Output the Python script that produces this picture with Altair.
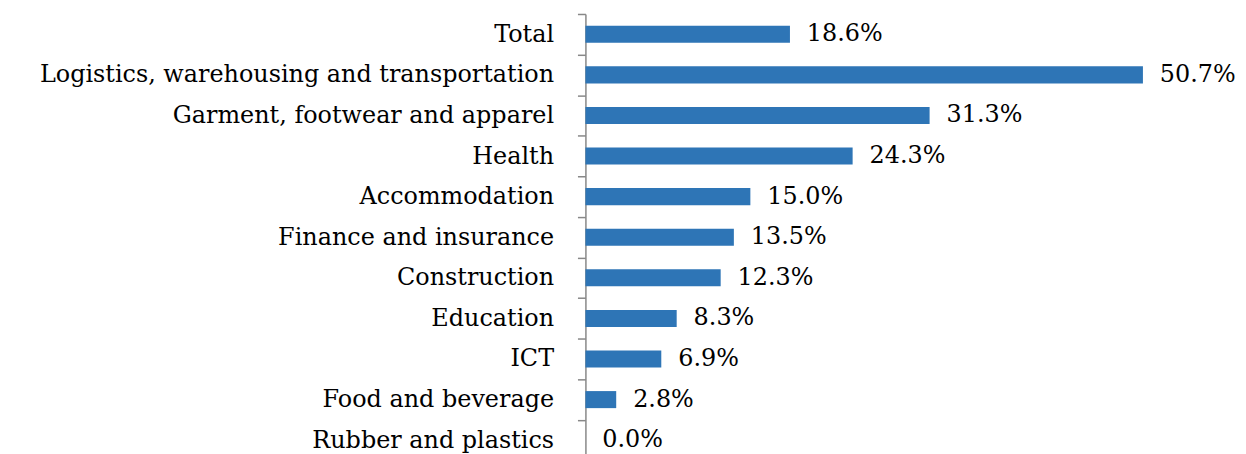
import altair as alt
import pandas as pd

categories = [
    "Total",
    "Logistics, warehousing and transportation",
    "Garment, footwear and apparel\u00a0",
    "Health",
    "Accommodation",
    "Finance and insurance",
    "Construction",
    "Education",
    "ICT",
    "Food and beverage",
    "Rubber and plastics",
]
values = [18.6, 50.7, 31.3, 24.3, 15.0, 13.5, 12.3, 8.3, 6.9, 2.8, 0.0]
labels = [f"{v:.1f}%" for v in values]

df = pd.DataFrame({"category": categories, "value": values, "label": labels})

FONT = "DejaVu Serif"
FS = 24

base = alt.Chart(df).encode(
    y=alt.Y(
        "category:N",
        sort=categories,
        title=None,
        scale=alt.Scale(paddingInner=0, paddingOuter=0),
        axis=alt.Axis(
            domainColor="#888888",
            domainWidth=1.5,
            tickColor="#888888",
            tickWidth=1.5,
            tickSize=8,
            tickBand="extent",
            labelPadding=24,
            labelFont=FONT,
            labelFontSize=FS,
            labelColor="black",
            labelLimit=1000,
        ),
    ),
    x=alt.X("value:Q", scale=alt.Scale(domain=[0, 55]), axis=None),
)

bars = base.mark_bar(color="#2E75B6", height=alt.RelativeBandSize(0.42))
text = base.mark_text(align="left", baseline="middle", dx=17, font=FONT, fontSize=FS, color="black").encode(
    text="label:N"
)

chart = (
    (bars + text)
    .properties(
        width=607.5,
        height=448.5,
        autosize=alt.AutoSizeParams(type="none"),
        padding={"left": 580, "top": 5, "right": 48, "bottom": 0},
    )
    .configure_view(stroke=None)
)

chart.save("out.html", embed_options={"renderer": "svg", "actions": False})
